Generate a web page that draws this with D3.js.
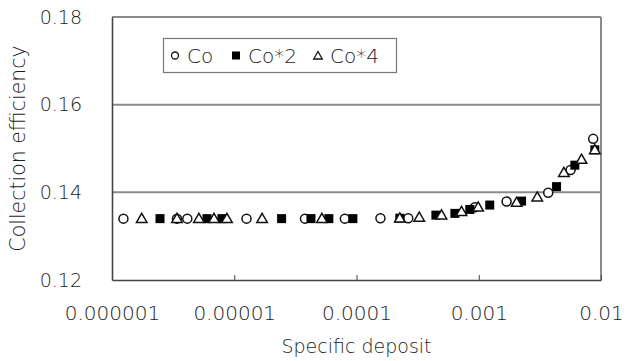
<!DOCTYPE html>
<meta charset="utf-8">
<script src="https://d3js.org/d3.v7.min.js"></script>
<style>
    body { margin: 0; background: #fff; }
    text { font-family: "DejaVu Sans", Verdana, sans-serif; font-weight: 300; fill: #1a1a1a; }
</style>
<div id="chart"></div>
<script>
    // data
    var coX = [1.24e-6, 3.4e-6, 4.13e-6, 1.26e-5, 3.79e-5, 8.03e-5, 1.57e-4, 2.65e-4, 9.3e-4, 1.69e-3, 3.7e-3, 5.64e-3, 8.63e-3]
    var coY = [0.134, 0.134, 0.134, 0.134, 0.134, 0.134, 0.1341, 0.1341, 0.1366, 0.1379, 0.1399, 0.1451, 0.1522]

    var co2X = [2.47e-6, 5.98e-6, 7.93e-6, 2.44e-5, 4.24e-5, 5.94e-5, 9.34e-5, 2.26e-4, 4.46e-4, 6.38e-4, 8.45e-4, 1.23e-3, 2.24e-3, 4.33e-3, 6.11e-3, 8.9e-3]
    var co2Y = [0.134, 0.134, 0.134, 0.134, 0.134, 0.134, 0.134, 0.1341, 0.1348, 0.1352, 0.1361, 0.1371, 0.138, 0.1413, 0.1462, 0.1497]

    var co4X = [1.75e-6, 3.4e-6, 5.14e-6, 6.83e-6, 8.72e-6, 1.69e-5, 5.21e-5, 2.26e-4, 3.26e-4, 4.96e-4, 7.23e-4, 9.89e-4, 2.04e-3, 3.01e-3, 4.97e-3, 6.93e-3, 8.9e-3]
    var co4Y = [0.134, 0.134, 0.134, 0.134, 0.134, 0.134, 0.134, 0.1341, 0.1343, 0.1348, 0.1356, 0.1366, 0.1377, 0.1389, 0.1445, 0.1475, 0.1497]

    var xTicks = [1e-6, 1e-5, 1e-4, 1e-3, 1e-2]
    var xTickLabels = ["0.000001", "0.00001", "0.0001", "0.001", "0.01"]
    var yTicks = [0.12, 0.14, 0.16, 0.18]

    var seriesNames = ["Co", "Co*2", "Co*4"]
    var seriesShapes = ["circle", "square", "triangle"]

    var width = 638
    var height = 361
    var margin = { top: 17, right: 37, bottom: 81, left: 112 }

    var svg = d3.select("#chart")
        .append("svg")
        .attr("width", width)
        .attr("height", height)

    var x = d3.scaleLog()
        .domain([1e-6, 1e-2])
        .range([margin.left, width - margin.right])

    var y = d3.scaleLinear()
        .domain([0.12, 0.18])
        .range([height - margin.bottom, margin.top])

    // gridlines + frame
    svg.append("g")
        .selectAll("line")
        .data(yTicks.slice(1))
        .enter()
        .append("line")
        .attr("x1", x(1e-6))
        .attr("x2", x(1e-2))
        .attr("y1", function (d) { return y(d) })
        .attr("y2", function (d) { return y(d) })
        .attr("stroke", "#8a8a8a")
        .attr("stroke-width", 2)

    svg.append("line")
        .attr("x1", x(1e-2)).attr("x2", x(1e-2))
        .attr("y1", y(0.18)).attr("y2", y(0.12))
        .attr("stroke", "#8a8a8a")
        .attr("stroke-width", 2)

    // x axis
    var xAxis = svg.append("g")
        .attr("transform", "translate(0," + y(0.12) + ")")
        .call(d3.axisBottom(x)
            .tickValues(xTicks)
            .tickFormat(function (d, i) { return xTickLabels[i] })
            .tickSizeInner(-5)
            .tickSizeOuter(0)
            .tickPadding(26))
    xAxis.select(".domain").attr("stroke", "#444").attr("stroke-width", 1.6)
    xAxis.selectAll(".tick line").attr("stroke", "#444")
    xAxis.selectAll("text").style("font-size", "20px").attr("fill", "#1a1a1a")

    // y axis
    var yAxis = svg.append("g")
        .attr("transform", "translate(" + x(1e-6) + ",0)")
        .call(d3.axisLeft(y)
            .tickValues(yTicks)
            .tickFormat(d3.format(".2f"))
            .tickSize(0)
            .tickPadding(30))
    yAxis.select(".domain").attr("stroke", "#444").attr("stroke-width", 1.6)
    yAxis.selectAll("text").style("font-size", "19px").attr("fill", "#1a1a1a")

    // axis titles
    svg.append("text")
        .attr("x", (x(1e-6) + x(1e-2)) / 2)
        .attr("y", 353)
        .attr("text-anchor", "middle")
        .style("font-size", "19px")
        .text("Specific deposit")

    svg.append("text")
        .attr("transform", "translate(25," + ((y(0.12) + y(0.18)) / 2) + ") rotate(-90)")
        .attr("text-anchor", "middle")
        .style("font-size", "20.5px")
        .text("Collection efficiency")

    // markers
    var triangle = d3.symbol().type(d3.symbolTriangle).size(48)

    function drawMarker(g, shape, cx, cy) {
        if (shape === "circle") {
            g.append("circle")
                .attr("cx", cx).attr("cy", cy).attr("r", 4.5)
                .attr("fill", "#fff").attr("stroke", "#111").attr("stroke-width", 1.5)
        } else if (shape === "square") {
            g.append("rect")
                .attr("x", cx - 4.5).attr("y", cy - 4.5)
                .attr("width", 9).attr("height", 9)
                .attr("fill", "#000")
        } else {
            g.append("path")
                .attr("d", triangle())
                .attr("transform", "translate(" + cx + "," + (cy + 0.8) + ")")
                .attr("fill", "#fff").attr("stroke", "#111").attr("stroke-width", 1.5)
        }
    }

    var allX = [coX, co2X, co4X]
    var allY = [coY, co2Y, co4Y]
    var pts = svg.append("g")
    allX.forEach(function (xs, s) {
        xs.forEach(function (v, i) {
            drawMarker(pts, seriesShapes[s], x(v), y(allY[s][i]))
        })
    })

    // legend
    var legend = svg.append("g")
    legend.append("rect")
        .attr("x", 163.5).attr("y", 38.5)
        .attr("width", 233).attr("height", 34)
        .attr("fill", "#fff")
        .attr("stroke", "#777")
        .attr("stroke-width", 1.2)

    var legendX = [175, 236, 318]
    seriesNames.forEach(function (name, i) {
        var lg = legend.append("g")
        if (seriesShapes[i] === "circle") {
            lg.append("circle")
                .attr("cx", legendX[i]).attr("cy", 55.5).attr("r", 3.5)
                .attr("fill", "#fff").attr("stroke", "#111").attr("stroke-width", 1.3)
        } else if (seriesShapes[i] === "square") {
            lg.append("rect")
                .attr("x", legendX[i] - 4).attr("y", 51.5).attr("width", 8).attr("height", 8)
                .attr("fill", "#000")
        } else {
            lg.append("path")
                .attr("d", d3.symbol().type(d3.symbolTriangle).size(32)())
                .attr("transform", "translate(" + legendX[i] + ",56.5)")
                .attr("fill", "#fff").attr("stroke", "#111").attr("stroke-width", 1.3)
        }
        lg.append("text")
            .attr("x", legendX[i] + 12)
            .attr("y", 62.5)
            .style("font-size", "20px")
            .text(name)
    })
</script>
